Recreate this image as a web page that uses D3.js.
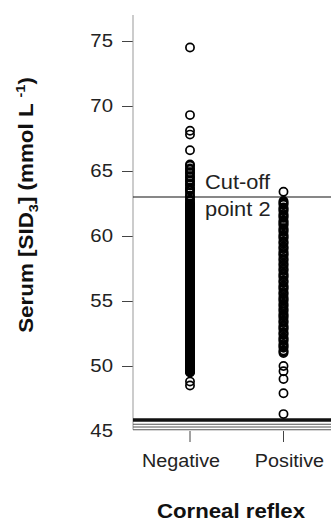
<!DOCTYPE html>
<html>
<head>
<meta charset="utf-8">
<script src="https://cdn.jsdelivr.net/npm/d3@7"></script>
<style>
  body { margin: 0; background: #fff; }
  svg { display: block; font-family: "Liberation Sans", Arial, sans-serif; }
</style>
</head>
<body>
<svg id="chart" width="331" height="521"></svg>
<script>
// values
const categories = ["Negative", "Positive"];
const yTicks = [45, 50, 55, 60, 65, 70, 75];
const cutoff = 63;
const cutoffLabel = ["Cut-off", "point 2"];
const lowLines = [45.92, 45.78, 45.52, 45.31, 45.1];

const negative = [
  74.5, 69.3, 68.1, 67.8, 66.6,
  65.5, 65.4, 65.2, 65.1, 64.9, 64.8, 64.6, 64.5, 64.3, 64.2,
  64.0, 63.9, 63.7, 63.6, 63.5, 63.3, 63.1, 63.0,
  62.8, 62.7, 62.5, 62.4, 62.3, 62.2, 62.1, 62.0,
  61.9, 61.8, 61.7, 61.6, 61.5, 61.4, 61.3, 61.2, 61.1, 61.0,
  60.9, 60.8, 60.7, 60.6, 60.5, 60.4, 60.3, 60.2, 60.1, 60.0,
  59.9, 59.8, 59.7, 59.6, 59.5, 59.4, 59.3, 59.2, 59.1, 59.0,
  58.9, 58.8, 58.7, 58.6, 58.5, 58.4, 58.3, 58.2, 58.1, 58.0,
  57.9, 57.8, 57.7, 57.6, 57.5, 57.4, 57.3, 57.2, 57.1, 57.0,
  56.9, 56.8, 56.7, 56.6, 56.5, 56.4, 56.3, 56.2, 56.1, 56.0,
  55.9, 55.8, 55.7, 55.6, 55.5, 55.4, 55.3, 55.2, 55.1, 55.0,
  54.9, 54.8, 54.7, 54.6, 54.5, 54.4, 54.3, 54.2, 54.1, 54.0,
  53.9, 53.8, 53.7, 53.6, 53.5, 53.4, 53.3, 53.2, 53.1, 53.0,
  52.9, 52.8, 52.7, 52.6, 52.5, 52.4, 52.3, 52.2, 52.1, 52.0,
  51.9, 51.8, 51.7, 51.6, 51.5, 51.4, 51.2, 51.1, 51.0,
  50.9, 50.8, 50.7, 50.5, 50.4, 50.3, 50.2, 50.1, 50.0,
  49.9, 49.8, 49.7, 49.6, 49.5,
  48.8, 48.5,
  62.45, 62.35, 62.25, 62.15, 62.05,
  61.95, 61.85, 61.75, 61.65, 61.55, 61.45, 61.35, 61.25, 61.15, 61.05,
  60.95, 60.85, 60.75, 60.65, 60.55, 60.45, 60.35, 60.25, 60.15, 60.05,
  59.95, 59.85, 59.75, 59.65, 59.55, 59.45, 59.35, 59.25, 59.15, 59.05,
  58.95, 58.85, 58.75, 58.65, 58.55, 58.45, 58.35, 58.25, 58.15, 58.05,
  57.95, 57.85, 57.75, 57.65, 57.55, 57.45, 57.35, 57.25, 57.15, 57.05,
  56.95, 56.85, 56.75, 56.65, 56.55, 56.45, 56.35, 56.25, 56.15, 56.05,
  55.95, 55.85, 55.75, 55.65, 55.55, 55.45, 55.35, 55.25, 55.15, 55.05,
  54.95, 54.85, 54.75, 54.65, 54.55, 54.45, 54.35, 54.25, 54.15, 54.05,
  53.95, 53.85, 53.75, 53.65, 53.55, 53.45, 53.35, 53.05,
  52.95, 52.85, 52.75, 52.65, 52.55, 52.45, 52.35, 52.25, 52.15, 52.05,
  51.95, 51.85, 51.75, 51.65, 51.55, 51.45, 51.15, 51.05,
  50.95, 50.85, 50.75, 50.65, 50.45, 50.05,
  49.95, 49.85, 49.75, 49.65, 49.55
];

const positive = [
  63.4,
  62.7, 62.6, 62.5, 62.4, 62.2, 62.1, 62.0, 61.9, 61.7, 61.6,
  61.5, 61.4, 61.2, 61.1, 61.0, 60.9, 60.8, 60.6, 60.5, 60.4,
  60.3, 60.1, 60.0, 59.9, 59.8, 59.6, 59.5, 59.4, 59.2, 59.1,
  59.0, 58.8, 58.7, 58.6, 58.5, 58.3, 58.2, 58.1, 57.9, 57.8,
  57.7, 57.5, 57.4, 57.3, 57.1, 57.0, 56.9, 56.8, 56.6, 56.5,
  56.4, 56.2, 56.1, 56.0, 55.9, 55.7, 55.6, 55.5, 55.3, 55.2,
  55.1, 55.0, 54.8, 54.7, 54.6, 54.4, 54.3, 54.2, 54.0, 53.9,
  53.8, 53.7, 53.5, 53.4, 53.3, 53.1, 53.0, 52.9, 52.8, 52.6,
  52.5, 52.4, 52.2, 52.1, 52.0, 51.9, 51.7, 51.6, 51.5, 51.4,
  51.2, 51.1, 51.0,
  50.0, 49.6, 49.0, 47.9, 46.3
];

const width = 331, height = 521;
const axisX = 133;
const sx = 1.1; // reference text is a bit wider than Liberation Sans

const svg = d3.select("#chart");

const x = d3.scalePoint().domain(categories).range([190, 283.5]);
const y = d3.scaleLinear().domain([45, 75]).range([431, 41]);

// y axis
const yAxis = d3.axisLeft(y).tickValues(yTicks).tickSize(11).tickPadding(9);
const gy = svg.append("g")
  .attr("transform", `translate(${axisX},0)`)
  .call(yAxis);
gy.select(".domain").remove();
gy.selectAll(".tick line").attr("stroke", "#444");
gy.selectAll(".tick").filter(d => d === 45).select("line").remove();
gy.selectAll(".tick text")
  .attr("font-size", 18.5)
  .attr("fill", "#222")
  .attr("font-family", "Liberation Sans, Arial, sans-serif")
  .attr("x", -20 / sx)
  .attr("transform", `scale(${sx},1)`);

gy.append("line")
  .attr("x1", 0).attr("x2", 0)
  .attr("y1", y(77)).attr("y2", y(45.1))
  .attr("stroke", "#999");

// horizontal reference lines near the bottom
svg.append("g").selectAll("line")
  .data(lowLines)
  .join("line")
  .attr("x1", axisX).attr("x2", width)
  .attr("y1", d => y(d)).attr("y2", d => y(d))
  .attr("stroke", (d, i) => i < 2 ? "#111" : "#555")
  .attr("stroke-width", (d, i) => i < 2 ? 1.8 : 1.1);

// cut-off line
svg.append("line")
  .attr("x1", axisX).attr("x2", width)
  .attr("y1", y(cutoff)).attr("y2", y(cutoff))
  .attr("stroke", "#111")
  .attr("stroke-width", 1.2);

svg.append("g")
  .selectAll("text")
  .data(cutoffLabel)
  .join("text")
  .attr("transform", (d, i) => `translate(205,${i ? 215.5 : 188.5}) scale(1.12,1)`)
  .attr("font-size", 19.5)
  .attr("fill", "#222")
  .text(d => d);

// x ticks and labels
const gx = svg.append("g");
gx.selectAll("line")
  .data(categories)
  .join("line")
  .attr("x1", d => x(d)).attr("x2", d => x(d))
  .attr("y1", 431).attr("y2", 442)
  .attr("stroke", "#444");
const labelShift = [-9, 6];
gx.selectAll("text")
  .data(categories)
  .join("text")
  .attr("transform", (d, i) => `translate(${x(d) + labelShift[i]},467) scale(1.07,1)`)
  .attr("text-anchor", "middle")
  .attr("font-size", 18.5)
  .attr("fill", "#222")
  .text(d => d);

// points
const pts = categories.map((c, i) => ({ cat: c, vals: i ? positive : negative }));
svg.append("g")
  .selectAll("g")
  .data(pts)
  .join("g")
  .selectAll("circle")
  .data(d => d.vals.map(v => ({ cat: d.cat, v })))
  .join("circle")
  .attr("cx", d => x(d.cat))
  .attr("cy", d => y(d.v))
  .attr("r", 4.1)
  .attr("fill", "none")
  .attr("stroke", "#000")
  .attr("stroke-width", 1.7);

// axis titles
svg.append("text")
  .attr("transform", "translate(231,518) scale(1.14,1)")
  .attr("text-anchor", "middle")
  .attr("font-size", 19.5)
  .attr("font-weight", "bold")
  .attr("fill", "#111")
  .text("Corneal reflex");

const yt = svg.append("text")
  .attr("transform", "translate(33,205) rotate(-90) scale(1.12,1)")
  .attr("text-anchor", "middle")
  .attr("font-size", 20)
  .attr("font-weight", "bold")
  .attr("fill", "#111");
yt.append("tspan").text("Serum [SID");
yt.append("tspan").attr("font-size", 13).attr("dy", 5).text("3");
yt.append("tspan").attr("dy", -5).text("] (mmol L ");
yt.append("tspan").attr("font-size", 13).attr("dy", -8).text("-1");
yt.append("tspan").attr("dy", 8).text(")");
</script>
</body>
</html>
